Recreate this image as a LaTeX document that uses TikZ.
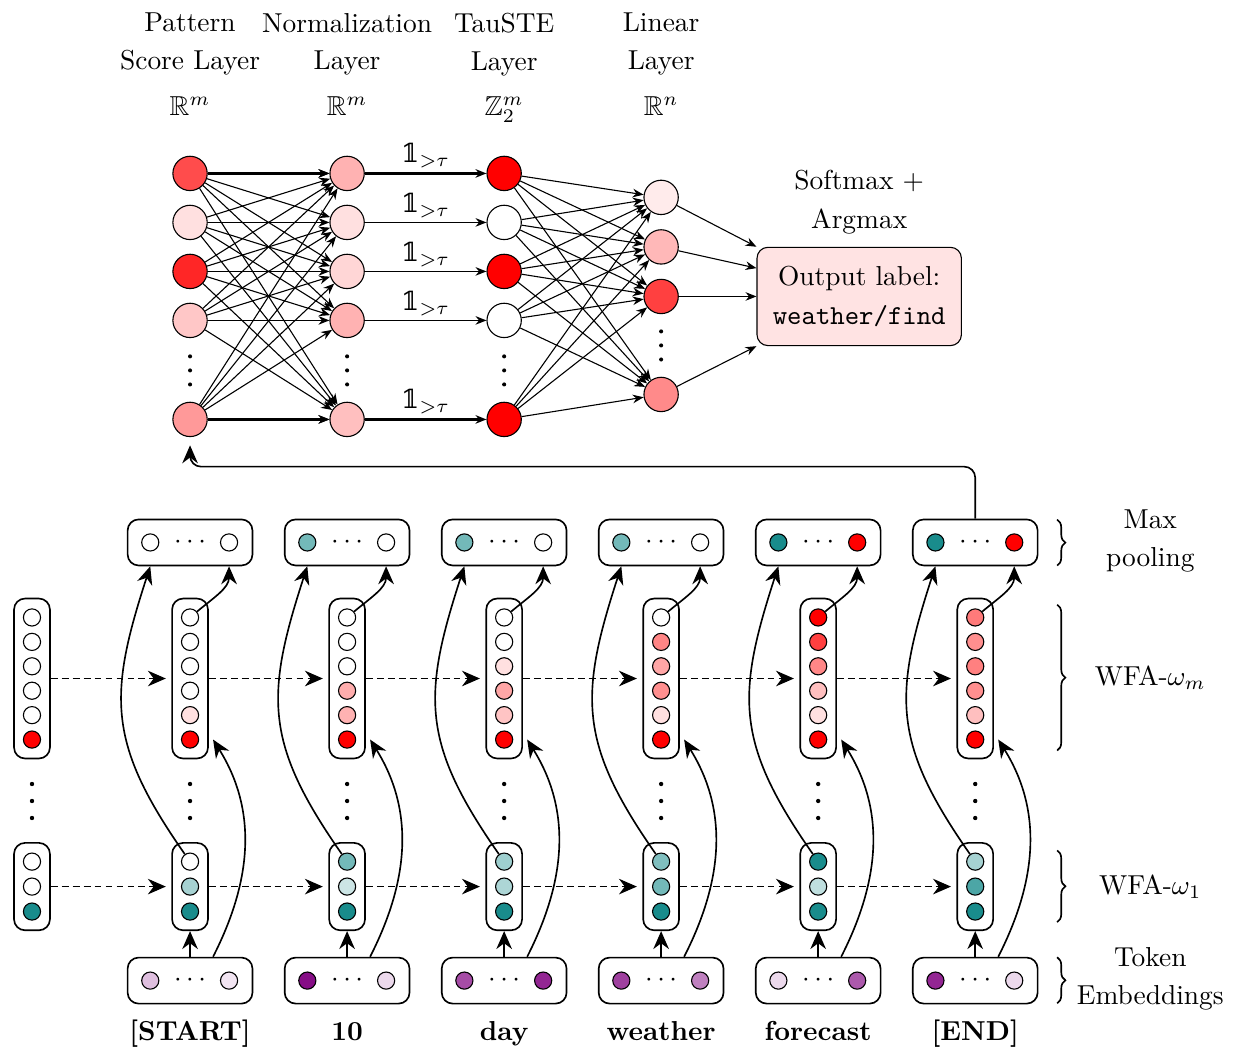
\documentclass[tikz,border=0pt]{standalone}
\usepackage{amssymb}
\usepackage{fontspec}
\newfontfamily\dblfont[Scale=0.95]{DejaVu Serif}
\newcommand{\indic}{\mbox{\dblfont 𝟙}}
\usetikzlibrary{calc, arrows.meta, positioning, decorations.pathreplacing}
\tikzstyle{neuron} = [circle, draw, minimum size=0.44cm, inner sep=0pt]
\tikzstyle{cell} = [circle, draw, minimum size=0.22cm, inner sep=0pt]
\tikzstyle{vecbox} = [draw, rounded corners=4pt, semithick, inner sep=0pt]
\tikzstyle{wire} = [-{Stealth[length=1.4mm, width=1.1mm]}]
\tikzstyle{flow} = [-{Stealth[length=2.3mm, width=2mm]}, semithick]
\tikzstyle{sidebrace} = [decorate, decoration={brace, amplitude=3pt}, semithick]
\tikzstyle{title} = [align=center, anchor=north, inner sep=0pt]

\begin{document}
\begin{tikzpicture}
	\useasboundingbox (0,0) rectangle (15.83,13.62);

	% layer titles
	\node[title] (ti-p) at (2.436,13.46) {Pattern\\[1.8pt]Score Layer\\[4.6pt]$\mathbb{R}^m$};
	\node[title] (ti-n) at (4.449,13.46) {Normalization\\[1.8pt]Layer\\[4.6pt]$\mathbb{R}^m$};
	\node[title] (ti-t) at (6.462,13.46) {TauSTE\\[1.8pt]Layer\\[4.6pt]$\mathbb{Z}_2^m$};
	\node[title] (ti-l) at (8.474,13.46) {Linear\\[1.8pt]Layer\\[4.6pt]$\mathbb{R}^n$};

	% pattern scores, normalisation, tau-STE
	\foreach \j/\y/\cp/\cn/\ct in {1/11.397/red!70/red!30/red, 2/10.769/red!12/red!12/white, 3/10.141/red!85/red!16/red, 4/9.513/red!22/red!30/white, 5/8.244/red!40/red!25/red}
	{
		\node[neuron, fill=\cp] (p-\j) at (2.436,\y) {};
		\node[neuron, fill=\cn] (n-\j) at (4.449,\y) {};
		\node[neuron, fill=\ct] (t-\j) at (6.462,\y) {};
	}
	\foreach \x in {2.436, 4.449, 6.462}
		\foreach \d in {-1,0,1}
			\fill (\x,8.872+0.18*\d) circle (0.026);
	% linear layer
	\foreach \j/\y/\c in {1/11.09/red!8, 2/10.455/red!28, 3/9.82/red!75, 4/8.564/red!46}
		\node[neuron, fill=\c] (l-\j) at (8.474,\y) {};
	\foreach \d in {-1,0,1}
		\fill (8.474,9.192+0.18*\d) circle (0.026);

	\node[draw, rounded corners=4pt, fill=red!11, minimum width=2.62cm, minimum height=1.26cm, align=center] (out) at (11.013,9.82) {Output label:\\[2pt]\texttt{weather/find}};
	\node[align=center] (sm) at (11.013,11.03) {Softmax +\\[2pt]Argmax};

	\foreach \a in {1,...,5}
		\foreach \b in {1,...,5}
			\draw[wire] (p-\a) -- (n-\b);
	\foreach \a in {1,5}
		\draw[wire, thick] (p-\a) -- (n-\a);
	\foreach \a/\w in {1/thick, 2/thin, 3/thin, 4/thin, 5/thick}
		\draw[wire, \w] (n-\a) -- node[above, inner sep=1.5pt] {\indic$_{>\tau}$} (t-\a);
	\foreach \a in {1,...,5}
		\foreach \b in {1,...,4}
			\draw[wire] (t-\a) -- (l-\b);
	\draw[wire] (l-1) -- (out.north west);
	\draw[wire] (l-2) -- ($(out.west)!0.57!(out.north west)$);
	\draw[wire] (l-3) -- (out.west);
	\draw[wire] (l-4) -- (out.south west);

	% WFA states
	\foreach \i/\x/\wm/\wo in {
		0/0.41/{white,white,white,white,white,red}/{white,white,teal!90},
		1/2.436/{white,white,white,white,red!12,red}/{white,teal!35,teal!90},
		2/4.449/{white,white,white,red!32,red!30,red}/{teal!55,teal!20,teal!90},
		3/6.462/{white,white,red!12,red!35,red!23,red}/{teal!38,teal!32,teal!90},
		4/8.474/{white,red!48,red!35,red!44,red!12,red}/{teal!50,teal!55,teal!90},
		5/10.487/{red,red!75,red!47,red!25,red!12,red}/{teal!90,teal!25,teal!90},
		6/12.5/{red!52,red!44,red!50,red!44,red!25,red}/{teal!35,teal!70,teal!90}}
	{
		\node[vecbox, minimum width=0.46cm, minimum height=2.05cm] (wm-\i) at (\x,4.923) {};
		\foreach \c [count=\k] in \wm
			\node[cell, fill=\c] (wm-\i-\k) at (\x,{4.923+0.313*(3.5-\k)}) {};
		\node[vecbox, minimum width=0.46cm, minimum height=1.12cm] (wo-\i) at (\x,2.256) {};
		\foreach \c [count=\k] in \wo
			\node[cell, fill=\c] (wo-\i-\k) at (\x,{2.256+0.32*(2-\k)}) {};
		\foreach \d in {-1,0,1}
			\fill (\x,3.353+0.218*\d) circle (0.028);
	}
	\foreach \i [count=\j] in {0,...,5}
	{
		\draw[flow, thin, dash pattern=on 2.5pt off 1.5pt, shorten >=2pt] (wm-\i) -- (wm-\j);
		\draw[flow, thin, dash pattern=on 2.5pt off 1.5pt, shorten >=2pt] (wo-\i) -- (wo-\j);
	}

	% max pooling and token embeddings
	\foreach \i/\x/\tok/\pl/\pr/\el/\er in {
		1/2.436/[START]/white/white/violet!25/violet!10,
		2/4.449/10/teal!55/white/violet!95/violet!15,
		3/6.462/day/teal!55/white/violet!70/violet!85,
		4/8.474/weather/teal!55/white/violet!75/violet!50,
		5/10.487/forecast/teal!90/red/violet!15/violet!65,
		6/12.5/[END]/teal!90/red/violet!85/violet!15}
	{
		\node[vecbox, minimum width=1.6cm, minimum height=0.59cm] (mp-\i) at (\x,6.667) {$\cdots$};
		\node[cell, fill=\pl] (mpl-\i) at (\x-0.51,6.667) {};
		\node[cell, fill=\pr] (mpr-\i) at (\x+0.5,6.667) {};
		\node[vecbox, minimum width=1.6cm, minimum height=0.59cm] (emb-\i) at (\x,1.051) {$\cdots$};
		\node[cell, fill=\el] (embl-\i) at (\x-0.51,1.051) {};
		\node[cell, fill=\er] (embr-\i) at (\x+0.5,1.051) {};
		\node[font=\bfseries, anchor=base] (tok-\i) at (\x,0.28) {\tok};
		\coordinate (src-\i) at ($(emb-\i.north)+(0.295,0)$);
		\coordinate (dst-\i) at ($(wm-\i-6)+(0.295,0)$);
		\draw[flow] (emb-\i) -- (wo-\i);
		\draw[flow] (src-\i) to[out=63, in=-58] (dst-\i);
		\draw[flow] (wo-\i-1) to[out=125, in=-108, looseness=1.2] (mpl-\i |- mp-\i.south);
		\draw[flow] (wm-\i-1) to[out=40, in=-90] (mpr-\i |- mp-\i.south);
	}

	% back to the pattern scores
	\draw[flow, rounded corners=4pt, shorten >=3pt] (mp-6.north) -- ++(0,0.666) -| (p-5);

	% braces
	\draw[sidebrace] (13.55,6.96) -- (13.55,6.37);
	\draw[sidebrace] (13.55,5.87) -- (13.55,4.0);
	\draw[sidebrace] (13.55,2.72) -- (13.55,1.8);
	\draw[sidebrace] (13.55,1.35) -- (13.55,0.76);
	\node[align=center] (br-mp) at (14.744,6.69) {Max\\[1.8pt]pooling};
	\node (br-wm) at (14.744,4.936) {WFA-$\omega_m$};
	\node (br-wo) at (14.744,2.256) {WFA-$\omega_1$};
	\node[align=center] (br-emb) at (14.744,1.07) {Token\\[1.8pt]Embeddings};
\end{tikzpicture}
\end{document}
